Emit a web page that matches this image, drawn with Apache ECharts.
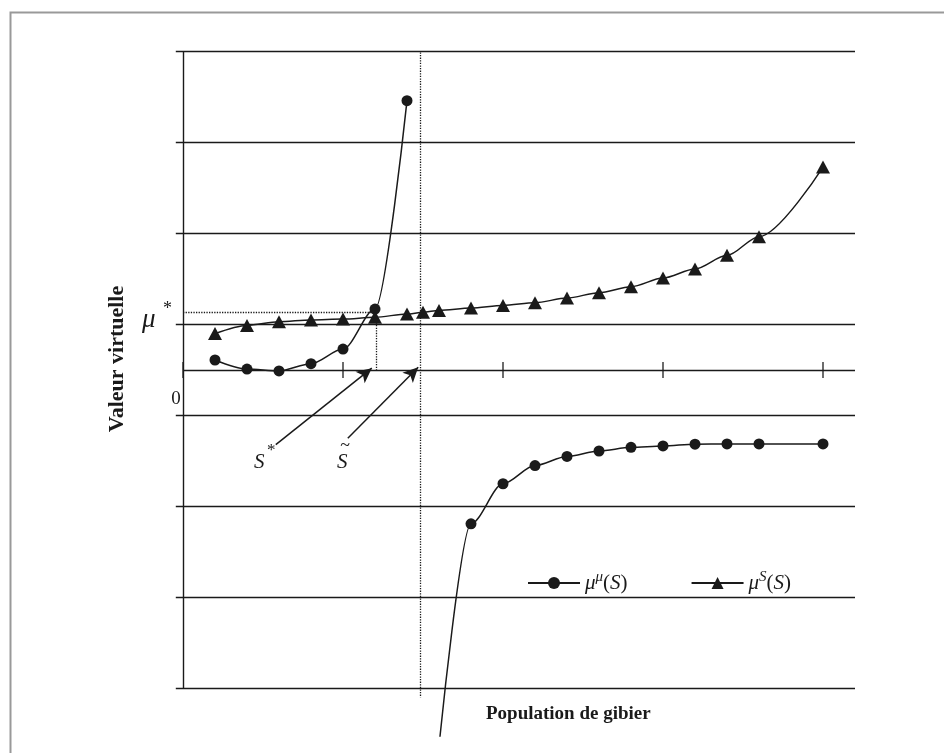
<!DOCTYPE html>
<html>
<head>
<meta charset="utf-8">
<script src="https://cdn.jsdelivr.net/npm/echarts@6/dist/echarts.min.js"></script>
<style>html,body{margin:0;padding:0;background:#fff;}#c{width:944px;height:753px;}</style>
</head>
<body>
<div id="c"></div>
<script>
// ---- data ----
const xTicks = [0, 1, 2, 3, 4];
const gridY = [-3.5, -2.5, -1.5, -0.5, 0.5, 1.5, 2.5, 3.5];
const muMuUpper = [[0.2, 0.11], [0.4, 0.01], [0.6, -0.01], [0.8, 0.07], [1.0, 0.23], [1.2, 0.67], [1.4, 2.96]];
const muMuTail = [1.606, -4.03];
const muMuLower = [[1.8, -1.69], [2.0, -1.25], [2.2, -1.05], [2.4, -0.95], [2.6, -0.89], [2.8, -0.85], [3.0, -0.835], [3.2, -0.815], [3.4, -0.813], [3.6, -0.813], [4.0, -0.813]];
const muS = [[0.2, 0.40], [0.4, 0.49], [0.6, 0.53], [0.8, 0.55], [1.0, 0.56], [1.2, 0.58], [1.4, 0.615], [1.5, 0.634], [1.6, 0.655], [1.8, 0.68], [2.0, 0.71], [2.2, 0.74], [2.4, 0.79], [2.6, 0.85], [2.8, 0.915], [3.0, 1.01], [3.2, 1.11], [3.4, 1.26], [3.6, 1.465], [4.0, 2.23]];
const muStar = 0.637;     // μ*
const sStar = 1.205;      // S*
const sTilde = 1.48;      // S~
const arrowSStar = [[0.58, -0.82], [1.18, 0.02]];
const arrowSTilde = [[1.03, -0.75], [1.47, 0.03]];

const FONT = "'Liberation Serif', 'DejaVu Serif', serif";
const INK = '#1a1a1a';

const solid = {color: INK, width: 1.4, type: 'solid'};
const dotted = {color: INK, width: 1.3, type: 'dotted'};

const mlData = [];
gridY.forEach(v => mlData.push([{coord: [-0.045, v], lineStyle: solid}, {coord: [4.2, v]}]));
mlData.push([{coord: [0, 0], lineStyle: solid}, {coord: [4.2, 0]}]);
mlData.push([{coord: [0, -3.5], lineStyle: solid}, {coord: [0, 3.5]}]);
mlData.push([{coord: [0, muStar], lineStyle: dotted}, {coord: [sStar, muStar]}]);
mlData.push([{coord: [sStar, muStar], lineStyle: dotted}, {coord: [sStar, 0]}]);
mlData.push([{coord: [sTilde, 3.49], lineStyle: dotted}, {coord: [sTilde, -3.6]}]);
[arrowSStar, arrowSTilde].forEach(a => mlData.push([
  {coord: a[0], symbol: 'none', lineStyle: {color: INK, width: 1.5, type: 'solid'}},
  {coord: a[1], symbol: 'arrow', symbolSize: [11, 15]}
]));

const lineCommon = {
  type: 'line', smooth: 0.3, smoothMonotone: 'x',
  lineStyle: {color: INK, width: 1.5},
  itemStyle: {color: INK},
  z: 5
};

const chart = echarts.init(document.getElementById('c'), null, {renderer: 'canvas'});
chart.setOption({
  animation: false,
  backgroundColor: '#fff',
  grid: {left: 175, width: 680, top: 42.4, height: 709.8},
  xAxis: {type: 'value', min: -0.05, max: 4.2, show: false},
  yAxis: {type: 'value', min: -4.2, max: 3.6, show: false},
  legend: {
    data: ['muMu', 'muS'],
    left: 522, top: 565,
    itemWidth: 52, itemHeight: 15, itemGap: 63,
    selectedMode: false,
    formatter: function (name) {
      return name === 'muMu' ? '{i|μ}{sup|μ}{n|(}{i|S}{n|)}' : '{i|μ}{sup|S}{n|(}{i|S}{n|)}';
    },
    textStyle: {
      color: INK, fontFamily: FONT, fontSize: 21,
      rich: {
        i: {fontFamily: FONT, fontStyle: 'italic', fontSize: 21, color: INK, lineHeight: 26},
        n: {fontFamily: FONT, fontSize: 21, color: INK, lineHeight: 26},
        sup: {fontFamily: FONT, fontStyle: 'italic', fontSize: 15, color: INK, verticalAlign: 'top', lineHeight: 16}
      }
    }
  },
  graphic: [
    {type: 'rect', left: 8, top: 10, shape: {x: 0, y: 0, width: 1000, height: 800}, style: {fill: 'none', stroke: '#999', lineWidth: 2}, z: 0},
    {type: 'text', x: 176, y: 399, style: {text: '0', font: '19px ' + FONT, fill: INK, align: 'center', verticalAlign: 'middle'}},
    {type: 'text', x: 142, y: 320, style: {text: 'μ', font: 'italic 27px ' + FONT, fill: INK, align: 'left', verticalAlign: 'middle'}},
    {type: 'text', x: 163, y: 309, style: {text: '*', font: '18px ' + FONT, fill: INK, align: 'left', verticalAlign: 'middle'}},
    {type: 'text', x: 254, y: 462, style: {text: 'S', font: 'italic 21px ' + FONT, fill: INK, align: 'left', verticalAlign: 'middle'}},
    {type: 'text', x: 267, y: 451, style: {text: '*', font: '17px ' + FONT, fill: INK, align: 'left', verticalAlign: 'middle'}},
    {type: 'text', x: 337, y: 462, style: {text: 'S', font: 'italic 21px ' + FONT, fill: INK, align: 'left', verticalAlign: 'middle'}},
    {type: 'text', x: 345, y: 446, style: {text: '~', font: '18px ' + FONT, fill: INK, align: 'center', verticalAlign: 'middle'}},
    {type: 'text', x: 117, y: 359, rotation: Math.PI / 2, style: {text: 'Valeur virtuelle', font: 'bold 22px ' + FONT, fill: INK, align: 'center', verticalAlign: 'middle'}},
    {type: 'text', x: 486, y: 714, style: {text: 'Population de gibier', font: 'bold 19px ' + FONT, fill: INK, align: 'left', verticalAlign: 'middle'}}
  ],
  series: [
    {
      type: 'line', name: 'frame', data: [], silent: true, z: 2,
      markLine: {silent: true, symbol: ['none', 'none'], label: {show: false}, animation: false, data: mlData}
    },
    {
      type: 'scatter', name: 'ticks', silent: true, z: 3,
      data: xTicks.map(t => [t, 0]),
      symbol: 'rect', symbolSize: [1.6, 16], itemStyle: {color: INK}
    },
    Object.assign({}, lineCommon, {name: 'muMu', data: muMuUpper, symbol: 'circle', symbolSize: 11}),
    Object.assign({}, lineCommon, {name: 'muMu', data: [{value: muMuTail, symbol: 'none'}].concat(muMuLower), symbol: 'circle', symbolSize: 11}),
    Object.assign({}, lineCommon, {name: 'muS', data: muS, symbol: 'triangle', symbolSize: [14, 13]})
  ]
});
</script>
</body>
</html>
